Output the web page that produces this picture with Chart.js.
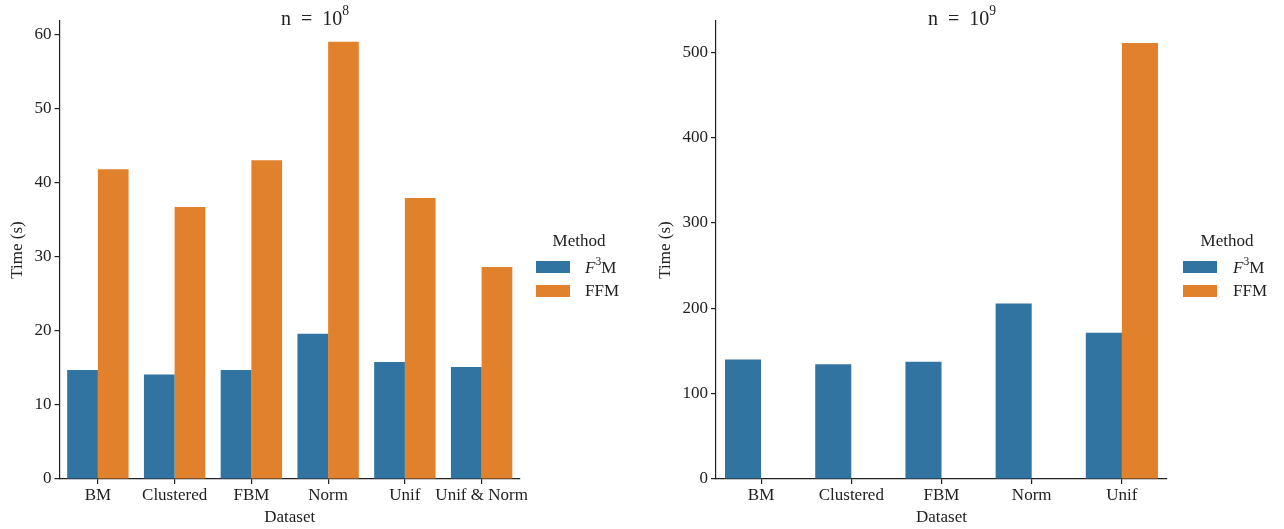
<!DOCTYPE html>
<html>
<head>
<meta charset="utf-8">
<script src="https://cdn.jsdelivr.net/npm/chart.js@4.4.1/dist/chart.umd.min.js"></script>
<style>
  body { margin: 0; background: #fff; }
  #wrap { position: relative; width: 1284px; height: 529px; overflow: hidden;
          font-family: 'Liberation Serif', 'DejaVu Serif', serif; color: #222; }
  .panel { position: absolute; top: 0; height: 529px; width: 642px; }
  .title { position: absolute; top: 6px; font-size: 20px; line-height: 24px;
           transform: translateX(-50%); white-space: nowrap; }
  .title sup, .lab sup { font-size: 0.68em; position: relative; top: -0.15em; line-height: 0; }
  .legend { position: absolute; font-size: 17px; }
  .legend .head { position: absolute; top: 0; transform: translateX(-50%); white-space: nowrap; }
  .legend .sw { position: absolute; width: 34px; height: 12px; }
  .legend .lab { position: absolute; white-space: nowrap; line-height: 20px; }
</style>
</head>
<body>
<div id="wrap">
  <div class="panel" style="left:0"><canvas id="left"></canvas></div>
  <div class="panel" style="left:642px"><canvas id="right"></canvas></div>

  <div class="title" style="left:315px">n&#8194;=&#8194;10<sup>8</sup></div>
  <div class="title" style="left:962px">n&#8194;=&#8194;10<sup>9</sup></div>

  <div class="legend" style="left:536px; top:231px">
    <div class="head" style="left:43px">Method</div>
    <div class="sw" style="left:0; top:30px; background:#3274a1"></div>
    <div class="lab" style="left:49px; top:27px"><i>F</i><sup>3</sup>M</div>
    <div class="sw" style="left:0; top:54px; background:#e1812c"></div>
    <div class="lab" style="left:49px; top:50px">FFM</div>
  </div>
  <div class="legend" style="left:1183px; top:231px">
    <div class="head" style="left:44px">Method</div>
    <div class="sw" style="left:0; top:30px; background:#3274a1"></div>
    <div class="lab" style="left:50px; top:27px"><i>F</i><sup>3</sup>M</div>
    <div class="sw" style="left:0; top:54px; background:#e1812c"></div>
    <div class="lab" style="left:50px; top:50px">FFM</div>
  </div>
</div>

<script>
// n = 10^8 runs
const smallSets = ["BM", "Clustered", "FBM", "Norm", "Unif", "Unif & Norm"];
const smallF3M = [14.7, 14.1, 14.7, 19.6, 15.8, 15.1];
const smallFFM = [41.8, 36.7, 43.0, 59.0, 37.9, 28.6];
const smallTicks = [0, 10, 20, 30, 40, 50, 60];
const smallMax = 61.8;

// n = 10^9 runs (FFM only finished on Unif)
const bigSets = ["BM", "Clustered", "FBM", "Norm", "Unif"];
const bigF3M = [140.0, 134.6, 137.3, 205.6, 171.3];
const bigFFM = [null, null, null, null, 511.0];
const bigTicks = [0, 100, 200, 300, 400, 500];
const bigMax = 536.7;

const methods = ["F³M", "FFM"];
const BLUE = "#3274a1";
const ORANGE = "#e1812c";
const INK = "#222";
const FONT = "'Liberation Serif', 'DejaVu Serif', serif";

function makeChart(id, cats, f3m, ffm, ticks, ymax, yAxisWidth, yTitlePad, rightPad) {
  const ctx = document.getElementById(id).getContext("2d");
  return new Chart(ctx, {
    type: "bar",
    data: {
      labels: cats,
      datasets: [
        { label: methods[0], data: f3m, backgroundColor: BLUE, borderWidth: 0 },
        { label: methods[1], data: ffm, backgroundColor: ORANGE, borderWidth: 0 }
      ]
    },
    options: {
      responsive: false,
      animation: false,
      layout: { padding: { left: 0, right: rightPad, top: 21, bottom: 0 } },
      plugins: { legend: { display: false }, title: { display: false }, tooltip: { enabled: false } },
      datasets: { bar: { categoryPercentage: 0.8, barPercentage: 1.0 } },
      scales: {
        x: {
          grid: { offset: false, drawOnChartArea: false, drawTicks: true, tickLength: 5, color: INK, lineWidth: 1.2 },
          border: { display: true, color: INK, width: 1.2 },
          ticks: { color: INK, font: { family: FONT, size: 17 }, padding: 1, maxRotation: 0, autoSkip: false },
          title: { display: true, text: "Dataset", color: INK, font: { family: FONT, size: 17 }, padding: { top: 0, bottom: 1 } },
          afterFit: s => { s.height = 50; }
        },
        y: {
          min: 0,
          max: ymax,
          afterBuildTicks: s => { s.ticks = ticks.map(v => ({ value: v })); },
          grid: { drawOnChartArea: false, drawTicks: true, tickLength: 5, color: INK, lineWidth: 1.2 },
          border: { display: true, color: INK, width: 1.2 },
          ticks: { color: INK, font: { family: FONT, size: 17 }, padding: 3 },
          title: { display: true, text: "Time (s)", color: INK, font: { family: FONT, size: 17 }, padding: { top: yTitlePad, bottom: 0 } },
          afterFit: s => { s.width = yAxisWidth; }
        }
      }
    }
  });
}

for (const c of ["left", "right"]) {
  const el = document.getElementById(c);
  el.width = 642; el.height = 529;
}

makeChart("left", smallSets, smallF3M, smallFFM, smallTicks, smallMax, 59.5, 7, 122);
makeChart("right", bigSets, bigF3M, bigFFM, bigTicks, bigMax, 74, 13, 117);
</script>
</body>
</html>
